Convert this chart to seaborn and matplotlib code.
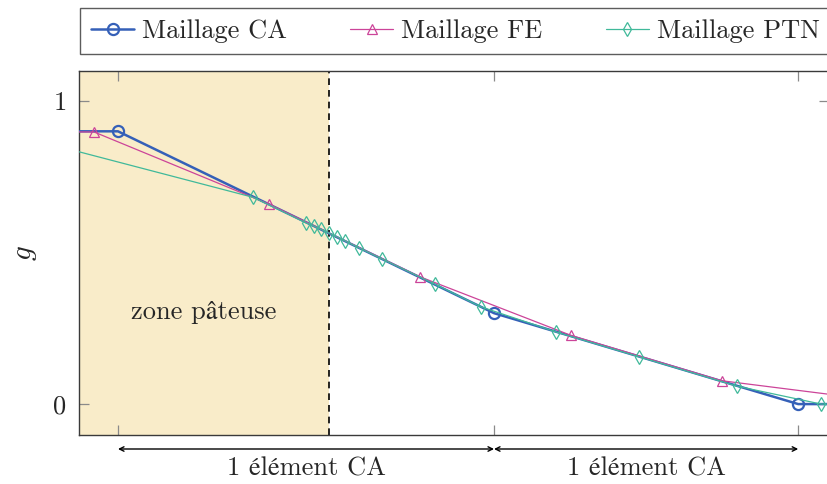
import numpy as np
import pandas as pd
import matplotlib
matplotlib.use("Agg")
import matplotlib.pyplot as plt
import seaborn as sns
from matplotlib.transforms import blended_transform_factory

# ---------------- data ----------------
ca_x = [-0.5, 0.0, 1.0, 1.809, 2.3]
ca_y = [0.90, 0.90, 0.30, 0.0, 0.0]

fe_x = [-0.466, -0.064, 0.401, 0.803, 1.204, 1.606, 2.008]
fe_y = [0.898, 0.898, 0.660, 0.420, 0.227, 0.077, 0.014]

ptn_x = [-0.5, 0.360, 0.500, 0.521, 0.539, 0.560, 0.582, 0.603, 0.642, 0.702,
         0.844, 0.965, 1.165, 1.386, 1.647, 1.870, 2.3]
ptn_y = [0.961, 0.682, 0.598, 0.587, 0.577, 0.565, 0.552, 0.539, 0.515, 0.479,
         0.395, 0.321, 0.238, 0.156, 0.059, 0.0, 0.0]

series_labels = ["Maillage CA", "Maillage FE", "Maillage PTN"]
zone_end = 0.561
ca_nodes = [0.0, 1.0, 1.809]
y_ticks = [0, 1]
zone_label = "zone pâteuse"
element_label = "1 élément CA"

# ---------------- style ----------------
sns.set_theme(style="white")
FAM = ["cmr10", "STIXGeneral", "DejaVu Serif"]
plt.rcParams["font.family"] = FAM
plt.rcParams["mathtext.fontset"] = "cm"
plt.rcParams["axes.formatter.use_mathtext"] = True
FS = 19

c_ca = "#3560b8"
c_fe = "#cc4499"
c_ptn = "#40b99a"

W, H = 827, 484
fig = plt.figure(figsize=(W / 100, H / 100), dpi=100)
ax_l, ax_r, ax_t, ax_b = 79, 829, 71, 435
ax = fig.add_axes([ax_l / W, 1 - ax_b / H, (ax_r - ax_l) / W, (ax_b - ax_t) / H])

xlim = (-0.1037, 1.8909)
ylim = (-0.102, 1.099)

df_ca = pd.DataFrame({"x": ca_x, "y": ca_y})
df_fe = pd.DataFrame({"x": fe_x, "y": fe_y})
df_ptn = pd.DataFrame({"x": ptn_x, "y": ptn_y})

ax.axvspan(xlim[0] - 1, zone_end, color="#f9ecc9", zorder=0, lw=0)
ax.axvline(zone_end, color="black", ls=(0, (4, 3)), lw=1.2, zorder=1)

sns.lineplot(data=df_ca, x="x", y="y", ax=ax, color=c_ca, lw=1.8, marker="o",
             markersize=8, markerfacecolor="none", markeredgecolor=c_ca,
             markeredgewidth=1.6, label=series_labels[0], sort=False, zorder=3)
sns.lineplot(data=df_fe, x="x", y="y", ax=ax, color=c_fe, lw=0.9, marker="^",
             markersize=7.5, markerfacecolor="none", markeredgecolor=c_fe,
             markeredgewidth=0.9, label=series_labels[1], sort=False, zorder=4)
sns.lineplot(data=df_ptn, x="x", y="y", ax=ax, color=c_ptn, lw=0.9, marker="d",
             markersize=7.5, markerfacecolor="none", markeredgecolor=c_ptn,
             markeredgewidth=0.9, label=series_labels[2], sort=False, zorder=5)

ax.set_xlim(*xlim)
ax.set_ylim(*ylim)
ax.set_xlabel("")
ax.set_ylabel("$g$", fontsize=FS + 2, rotation=90)
ax.yaxis.set_label_coords(-(79 - 39) / (ax_r - ax_l), 0.5)

ax.set_xticks(ca_nodes)
ax.set_xticklabels([])
ax.set_yticks(y_ticks)
ax.set_yticklabels([str(v) for v in y_ticks], fontsize=FS)
ax.tick_params(axis="both", direction="in", length=7.5, width=0.9, color="#8a8a8a",
               top=True, bottom=True, left=True, right=True,
               labelbottom=False, labelleft=True)
ax.tick_params(axis="y", pad=9)
for s in ax.spines.values():
    s.set_visible(True)
    s.set_color("#3a3a3a")
    s.set_linewidth(1.0)
ax.grid(False)

ax.text(0.229, 0.304, zone_label, fontsize=FS, ha="center", va="center", family=FAM)

# arrows below the axis
trans = blended_transform_factory(ax.transData, ax.transAxes)
y_arrow = -(449 - ax_b) / (ax_b - ax_t)
y_txt = -(469 - ax_b) / (ax_b - ax_t)
for a, b in [(ca_nodes[0], ca_nodes[1]), (ca_nodes[1], ca_nodes[2])]:
    ax.annotate("", xy=(b, y_arrow), xytext=(a, y_arrow), xycoords=trans, textcoords=trans,
                arrowprops=dict(arrowstyle="<->", lw=1.0, color="black",
                                shrinkA=0, shrinkB=0, mutation_scale=8),
                annotation_clip=False)
    ax.text((a + b) / 2, y_txt, element_label, transform=trans, ha="center", va="center",
            fontsize=FS, family=FAM, clip_on=False)

ax.get_legend().remove()
handles, labels = ax.get_legend_handles_labels()
leg = fig.legend(handles, labels, loc="upper left", bbox_to_anchor=(80 / W, 1 - 8 / H),
                 ncol=3, fontsize=FS, frameon=True, fancybox=False, borderaxespad=0,
                 handlelength=1.63, handletextpad=0.3, columnspacing=2.4,
                 borderpad=0.42, numpoints=1)
leg.get_frame().set_edgecolor("#333333")
leg.get_frame().set_linewidth(1.0)
leg.get_frame().set_facecolor("white")

fig.savefig("out.png", dpi=100)
